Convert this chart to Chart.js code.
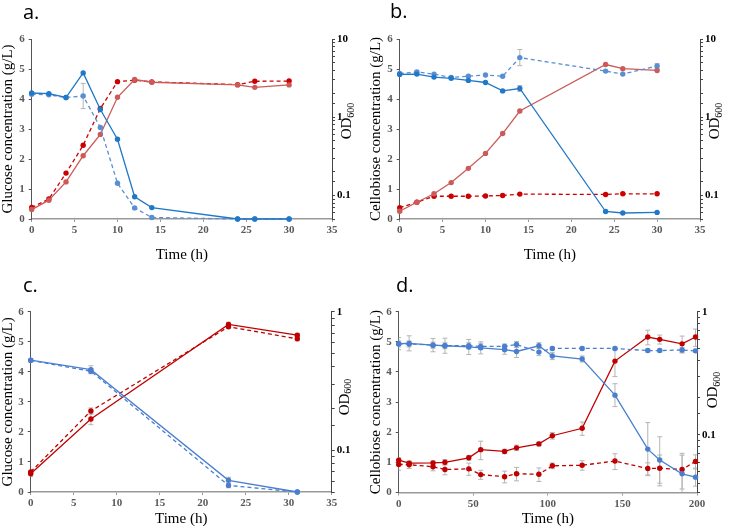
<!DOCTYPE html>
<html><head><meta charset="utf-8">
<script src="https://cdn.jsdelivr.net/npm/chart.js@4.4.1/dist/chart.umd.min.js"></script>
<style>
html,body{margin:0;padding:0;background:#fff;}
body{width:738px;height:527px;position:relative;overflow:hidden;}
canvas{position:absolute;}
</style></head><body>
<canvas id="ca" width="368" height="263" style="left:0;top:0"></canvas>
<canvas id="cb" width="370" height="263" style="left:368px;top:0"></canvas>
<canvas id="cc" width="368" height="264" style="left:0;top:263px"></canvas>
<canvas id="cd" width="370" height="264" style="left:368px;top:263px"></canvas>
<script>
// ---------- Panel a ----------
const timeA = [0, 2, 4, 6, 8, 10, 12, 14, 24, 26, 30];
const glucoseA_solid  = [4.20, 4.18, 4.05, 4.87, 3.65, 2.66, 0.74, 0.38, 0, 0, 0];
const glucoseA_dashed = [4.16, 4.14, 4.05, 4.10, 3.05, 1.19, 0.37, 0.05, 0, 0, 0];
const glucoseA_dashedErr = [0, 0, 0, 0.42, 0, 0, 0, 0, 0, 0, 0];
const odA_solid  = [0.066, 0.087, 0.149, 0.322, 0.603, 1.80, 3.03, 2.80, 2.59, 2.41, 2.59];
const odA_dashed = [0.070, 0.090, 0.193, 0.439, 1.29, 2.85, 2.98, 2.83, 2.61, 2.88, 2.90];

// ---------- Panel b ----------
const timeB = [0, 2, 4, 6, 8, 10, 12, 14, 24, 26, 30];
const cellobioseB_solid  = [4.82, 4.83, 4.73, 4.69, 4.62, 4.55, 4.27, 4.35, 0.25, 0.20, 0.22];
const cellobioseB_solidErr = [0, 0, 0, 0, 0, 0, 0, 0.1, 0, 0, 0];
const cellobioseB_dashed = [4.85, 4.90, 4.83, 4.72, 4.76, 4.80, 4.76, 5.38, 4.93, 4.83, 5.10];
const cellobioseB_dashedErr = [0, 0.04, 0, 0, 0, 0, 0, 0.27, 0, 0, 0.08];
const odB_solid  = [0.0628, 0.0818, 0.105, 0.146, 0.222, 0.345, 0.619, 1.20, 4.72, 4.17, 3.96];
const odB_dashed = [0.0698, 0.0818, 0.0977, 0.0977, 0.0977, 0.0986, 0.100, 0.104, 0.103, 0.105, 0.105];

// ---------- Panel c ----------
const timeC = [0, 7, 23, 31];
const glucoseC_solid  = [4.39, 4.07, 0.39, 0];
const glucoseC_solidErr  = [0.04, 0.13, 0.1, 0.02];
const glucoseC_dashed = [4.38, 4.02, 0.22, 0];
const glucoseC_dashedErr = [0.04, 0.08, 0.08, 0.02];
const odC_solid  = [0.0677, 0.168, 0.810, 0.677];
const odC_solidErr  = [0.003, 0.015, 0.03, 0.02];
const odC_dashed = [0.0698, 0.192, 0.779, 0.637];
const odC_dashedErr = [0.003, 0.01, 0.02, 0.02];

// ---------- Panel d ----------
const timeD = [0, 7, 23, 31, 47, 55, 71, 79, 94, 103, 123, 145, 167, 175, 190, 199];
const cellobioseD_solid  = [4.94, 4.95, 4.89, 4.87, 4.83, 4.80, 4.74, 4.68, 4.87, 4.53, 4.43, 3.23, 1.44, 1.08, 0.62, 0.51];
const cellobioseD_solidErr = [0.2, 0.25, 0.22, 0.25, 0.25, 0.2, 0.15, 0.2, 0.1, 0.12, 0.1, 0.38, 0.88, 0.77, 0.68, 0.3];
const cellobioseD_dashed = [4.93, 4.93, 4.89, 4.87, 4.87, 4.85, 4.85, 4.91, 4.66, 4.78, 4.78, 4.78, 4.71, 4.71, 4.73, 4.70];
const cellobioseD_dashedErr = [0.1, 0.1, 0.1, 0.1, 0.1, 0.1, 0.08, 0.1, 0.12, 0.05, 0.05, 0.05, 0.05, 0.05, 0.08, 0.05];
const odD_solid  = [0.0622, 0.0588, 0.0592, 0.0598, 0.0651, 0.0758, 0.0733, 0.0784, 0.0844, 0.0983, 0.113, 0.397, 0.623, 0.596, 0.548, 0.623];
const odD_solidErr = [0.003, 0.002, 0.002, 0.003, 0.003, 0.013, 0.003, 0.004, 0.003, 0.006, 0.014, 0.1, 0.085, 0.05, 0.086, 0.1];
const odD_dashed = [0.0575, 0.0572, 0.0550, 0.0523, 0.0529, 0.0475, 0.0457, 0.0483, 0.0478, 0.0560, 0.0566, 0.0612, 0.0532, 0.0535, 0.0523, 0.0608];
const odD_dashedErr = [0.006, 0.004, 0.004, 0.005, 0.006, 0.004, 0.005, 0.006, 0.006, 0.003, 0.005, 0.009, 0.006, 0.015, 0.016, 0.008];

// ---------- Axis tick labels ----------
const odTickLabels = [0.1, 1, 10];
const timeTitle = 'Time (h)';
const odTitleMain = 'OD';
const odTitleSub = '600';

const serif = '"Liberation Serif", "Times New Roman", serif';

const errorBars = {
  id: 'errorBars',
  beforeDatasetsDraw(chart) {
    const ctx = chart.ctx, a = chart.chartArea;
    ctx.save();
    ctx.beginPath(); ctx.rect(a.left, a.top - 2, a.right - a.left, a.bottom - a.top + 2); ctx.clip();
    ctx.strokeStyle = '#b5b5b5'; ctx.lineWidth = 1;
    chart.data.datasets.forEach((ds, i) => {
      if (!ds.errors) return;
      const meta = chart.getDatasetMeta(i);
      const ys = chart.scales[meta.yAxisID];
      ds.data.forEach((p, j) => {
        const e = ds.errors[j]; if (!e) return;
        const x = meta.data[j].x;
        let lo = p.y - e;
        if (ys.type === 'logarithmic' && lo <= 0) lo = ys.min;
        const y1 = ys.getPixelForValue(p.y + e), y2 = ys.getPixelForValue(lo);
        ctx.beginPath();
        ctx.moveTo(x, y1); ctx.lineTo(x, y2);
        ctx.moveTo(x - 2.5, y1); ctx.lineTo(x + 2.5, y1);
        ctx.moveTo(x - 2.5, y2); ctx.lineTo(x + 2.5, y2);
        ctx.stroke();
      });
    });
    ctx.restore();
  }
};

const odTitle = {
  id: 'odTitle',
  afterDraw(chart, args, o) {
    const ctx = chart.ctx, a = chart.chartArea;
    ctx.save();
    ctx.translate(a.right + o.dx, o.cy);
    ctx.rotate(-Math.PI / 2);
    ctx.fillStyle = '#000';
    ctx.textBaseline = 'middle'; ctx.textAlign = 'left';
    ctx.font = '15px ' + serif;
    const w1 = ctx.measureText(odTitleMain).width;
    ctx.font = '10px ' + serif;
    const w2 = ctx.measureText(odTitleSub).width;
    const s = -(w1 + w2) / 2;
    ctx.font = '15px ' + serif;
    ctx.fillText(odTitleMain, s, 0);
    ctx.font = '10px ' + serif;
    ctx.fillText(odTitleSub, s + w1, 4);
    ctx.restore();
  }
};

const panelLabel = {
  id: 'panelLabel',
  afterDraw(chart, args, o) {
    const ctx = chart.ctx;
    ctx.save();
    ctx.fillStyle = '#000';
    ctx.font = '20px "Open Sans", sans-serif';
    ctx.textBaseline = 'alphabetic'; ctx.textAlign = 'left';
    ctx.fillText(o.text, o.x, o.y);
    ctx.restore();
  }
};

function series(xs, ys) { return xs.map((x, i) => ({ x: x, y: ys[i] })); }

function buildPanel(id, p) {
  const tickFont = { family: serif, size: 11, weight: 'bold' };
  return new Chart(document.getElementById(id), {
    type: 'line',
    data: {
      datasets: p.datasets.map(d => ({
        data: series(p.time, d.values),
        errors: d.errors,
        yAxisID: d.axis,
        borderColor: d.color,
        backgroundColor: d.color,
        pointBackgroundColor: d.color,
        pointBorderWidth: 0,
        pointRadius: 2.7,
        borderWidth: 1.3,
        borderDash: d.dashed ? [4, 3] : [],
        tension: 0,
        clip: false
      }))
    },
    options: {
      responsive: false, animation: false, events: [],
      layout: { padding: { top: p.top, left: 0, right: 0, bottom: 0 } },
      plugins: {
        legend: { display: false }, tooltip: { enabled: false },
        odTitle: p.odTitle,
        panelLabel: p.label
      },
      scales: {
        x: {
          type: 'linear', min: 0, max: p.xMax,
          afterFit: s => { s.height = p.xH; },
          ticks: { stepSize: p.xStep, font: tickFont, color: '#595959', padding: 2, maxRotation: 0, autoSkip: false },
          grid: { drawOnChartArea: false, tickLength: 3, color: '#999' },
          border: { color: '#999', width: 1.5 },
          title: { display: true, text: timeTitle, color: '#000', font: { family: serif, size: 15, lineHeight: 1.1 }, padding: { top: p.xTitlePad, bottom: 0 } }
        },
        y: {
          position: 'left', min: 0, max: 6,
          afterFit: s => { s.width = p.leftW; },
          ticks: { stepSize: 1, font: tickFont, color: '#595959', padding: 4 },
          grid: { drawOnChartArea: false, tickLength: 3, color: '#555' },
          border: { color: '#555', width: 1 },
          title: { display: true, text: p.yTitle, color: '#000', font: { family: serif, size: 15, lineHeight: 1.1 }, padding: { top: 0, bottom: 0 } }
        },
        y2: {
          type: 'logarithmic', position: 'right', min: p.odMin, max: p.odMax,
          afterFit: s => { s.width = p.rightW; },
          ticks: {
            autoSkip: false, font: tickFont, color: '#000', padding: 2,
            callback: v => odTickLabels.some(t => Math.abs(v - t) < 1e-9) ? String(v) : ''
          },
          grid: { drawOnChartArea: false, tickLength: 3, color: '#444' },
          border: { color: '#444', width: 1 }
        }
      }
    },
    plugins: [errorBars, odTitle, panelLabel]
  });
}

const blueA = '#1f78c8', blueAd = '#5a8ed3', redA = '#cc5a58', redAd = '#cc0000';
const blueC = '#4a7fd0', redC = '#c00000';

buildPanel('ca', {
  time: timeA, xMax: 35, xStep: 5, top: 39, xH: 44, leftW: 31.7, rightW: 36, xTitlePad: 8.75,
  odMin: 0.05, odMax: 10, yTitle: 'Glucose concentration (g/L)',
  odTitle: { dx: 15, cy: 121 }, label: { text: 'a.', x: 23, y: 19 },
  datasets: [
    { values: glucoseA_solid, axis: 'y', color: blueA, dashed: false },
    { values: glucoseA_dashed, errors: glucoseA_dashedErr, axis: 'y', color: blueAd, dashed: true },
    { values: odA_solid, axis: 'y2', color: redA, dashed: false },
    { values: odA_dashed, axis: 'y2', color: redAd, dashed: true }
  ]
});
buildPanel('cb', {
  time: timeB, xMax: 35, xStep: 5, top: 39, xH: 44, leftW: 31.7, rightW: 38, xTitlePad: 8.75,
  odMin: 0.05, odMax: 10, yTitle: 'Cellobiose concentration (g/L)',
  odTitle: { dx: 15, cy: 121 }, label: { text: 'b.', x: 22, y: 18 },
  datasets: [
    { values: cellobioseB_solid, errors: cellobioseB_solidErr, axis: 'y', color: blueA, dashed: false },
    { values: cellobioseB_dashed, errors: cellobioseB_dashedErr, axis: 'y', color: blueAd, dashed: true },
    { values: odB_solid, axis: 'y2', color: redA, dashed: false },
    { values: odB_dashed, axis: 'y2', color: redAd, dashed: true }
  ]
});
buildPanel('cc', {
  time: timeC, xMax: 35, xStep: 5, top: 48.7, xH: 35, leftW: 30.7, rightW: 36.3, xTitlePad: 0,
  odMin: 0.05, odMax: 1, yTitle: 'Glucose concentration (g/L)',
  odTitle: { dx: 13, cy: 134 }, label: { text: 'c.', x: 23, y: 29 },
  datasets: [
    { values: glucoseC_solid, errors: glucoseC_solidErr, axis: 'y', color: blueC, dashed: false },
    { values: glucoseC_dashed, errors: glucoseC_dashedErr, axis: 'y', color: blueC, dashed: true },
    { values: odC_solid, errors: odC_solidErr, axis: 'y2', color: redC, dashed: false },
    { values: odC_dashed, errors: odC_dashedErr, axis: 'y2', color: redC, dashed: true }
  ]
});
buildPanel('cd', {
  time: timeD, xMax: 200, xStep: 50, top: 48.7, xH: 34.5, leftW: 30.7, rightW: 41, xTitlePad: 0,
  odMin: 0.034, odMax: 1, yTitle: 'Cellobiose concentration (g/L)',
  odTitle: { dx: 16, cy: 127 }, label: { text: 'd.', x: 28, y: 29 },
  datasets: [
    { values: cellobioseD_solid, errors: cellobioseD_solidErr, axis: 'y', color: blueC, dashed: false },
    { values: cellobioseD_dashed, errors: cellobioseD_dashedErr, axis: 'y', color: blueC, dashed: true },
    { values: odD_solid, errors: odD_solidErr, axis: 'y2', color: redC, dashed: false },
    { values: odD_dashed, errors: odD_dashedErr, axis: 'y2', color: redC, dashed: true }
  ]
});
</script>
</body></html>
